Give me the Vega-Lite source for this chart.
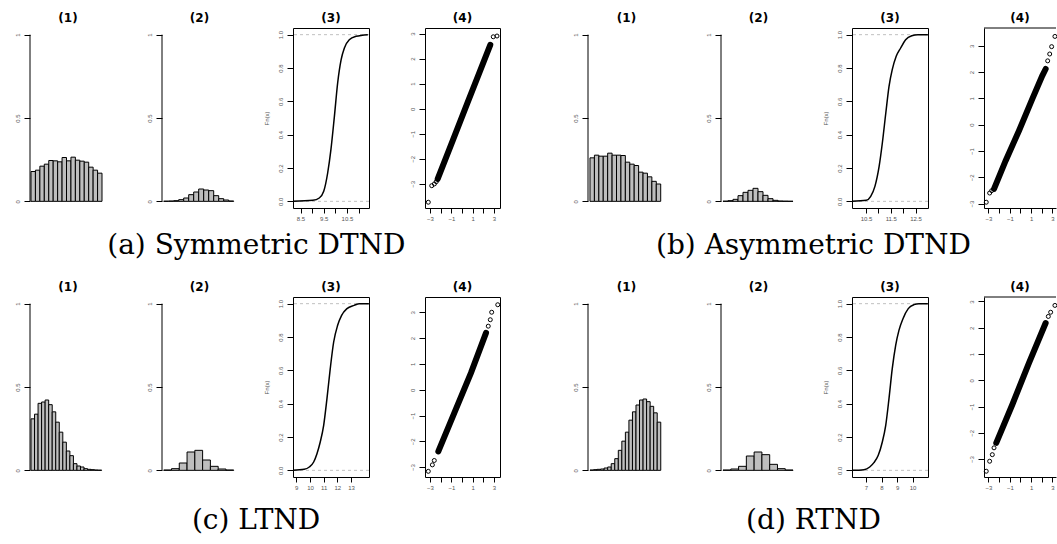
{
 "$schema": "https://vega.github.io/schema/vega-lite/v6.json",
 "background": "white",
 "autosize": {"type": "pad"},
 "padding": {"left": 13, "top": 11, "right": 0, "bottom": 0},
 "config": {
  "view": {"stroke": null},
  "axis": {"domain": false, "grid": false, "ticks": true, "tickColor": "#000", "tickWidth": 1, "tickSize": 5, "tickCount": 20, "labelFont": "Liberation Sans", "labelFontSize": 6, "labelColor": "#555", "titleFont": "Liberation Sans", "titleFontSize": 6, "titleFontWeight": "normal", "titleColor": "#555", "labelPadding": 2, "labelFlush": false, "labelBound": false, "labelOverlap": false},
  "axisX": {"labelAngle": 0, "labelAlign": "center", "labelBaseline": "top"},
  "axisY": {"labelAngle": -90, "labelAlign": "center", "labelBaseline": "bottom", "labelPadding": 4, "tickSize": 6, "titlePadding": 8},
  "title": {"font": "DejaVu Sans", "fontSize": 12, "fontWeight": "bold", "color": "#000", "offset": 3, "anchor": "middle", "baseline": "bottom"}
 },
 "datasets": {
  "h1": [
   {"g":"a","b0":0,"b1":1,"d":0.179},{"g":"a","b0":1,"b1":2,"d":0.187},{"g":"a","b0":2,"b1":3,"d":0.211},{"g":"a","b0":3,"b1":4,"d":0.223},{"g":"a","b0":4,"b1":5,"d":0.245},{"g":"a","b0":5,"b1":6,"d":0.243},{"g":"a","b0":6,"b1":7,"d":0.237},{"g":"a","b0":7,"b1":8,"d":0.263},{"g":"a","b0":8,"b1":9,"d":0.243},{"g":"a","b0":9,"b1":10,"d":0.265},{"g":"a","b0":10,"b1":11,"d":0.247},{"g":"a","b0":11,"b1":12,"d":0.241},{"g":"a","b0":12,"b1":13,"d":0.235},{"g":"a","b0":13,"b1":14,"d":0.205},{"g":"a","b0":14,"b1":15,"d":0.187},{"g":"a","b0":15,"b1":16,"d":0.169},
   {"g":"b","b0":0,"b1":1,"d":0.261},{"g":"b","b0":1,"b1":2,"d":0.277},{"g":"b","b0":2,"b1":3,"d":0.271},{"g":"b","b0":3,"b1":4,"d":0.271},{"g":"b","b0":4,"b1":5,"d":0.289},{"g":"b","b0":5,"b1":6,"d":0.277},{"g":"b","b0":6,"b1":7,"d":0.277},{"g":"b","b0":7,"b1":8,"d":0.275},{"g":"b","b0":8,"b1":9,"d":0.235},{"g":"b","b0":9,"b1":10,"d":0.223},{"g":"b","b0":10,"b1":11,"d":0.215},{"g":"b","b0":11,"b1":12,"d":0.175},{"g":"b","b0":12,"b1":13,"d":0.169},{"g":"b","b0":13,"b1":14,"d":0.147},{"g":"b","b0":14,"b1":15,"d":0.120},{"g":"b","b0":15,"b1":16,"d":0.104},
   {"g":"c","b0":0,"b1":1,"d":0.309},{"g":"c","b0":1,"b1":2,"d":0.337},{"g":"c","b0":2,"b1":3,"d":0.402},{"g":"c","b0":3,"b1":4,"d":0.410},{"g":"c","b0":4,"b1":5,"d":0.422},{"g":"c","b0":5,"b1":6,"d":0.394},{"g":"c","b0":6,"b1":7,"d":0.351},{"g":"c","b0":7,"b1":8,"d":0.289},{"g":"c","b0":8,"b1":9,"d":0.229},{"g":"c","b0":9,"b1":10,"d":0.169},{"g":"c","b0":10,"b1":11,"d":0.116},{"g":"c","b0":11,"b1":12,"d":0.088},{"g":"c","b0":12,"b1":13,"d":0.040},{"g":"c","b0":13,"b1":14,"d":0.026},{"g":"c","b0":14,"b1":15,"d":0.020},{"g":"c","b0":15,"b1":16,"d":0.010},{"g":"c","b0":16,"b1":17,"d":0.006},{"g":"c","b0":17,"b1":18,"d":0.004},{"g":"c","b0":18,"b1":19,"d":0.002},{"g":"c","b0":19,"b1":20,"d":0.001},
   {"g":"d","b0":0,"b1":1,"d":0.002},{"g":"d","b0":1,"b1":2,"d":0.004},{"g":"d","b0":2,"b1":3,"d":0.006},{"g":"d","b0":3,"b1":4,"d":0.008},{"g":"d","b0":4,"b1":5,"d":0.014},{"g":"d","b0":5,"b1":6,"d":0.020},{"g":"d","b0":6,"b1":7,"d":0.040},{"g":"d","b0":7,"b1":8,"d":0.070},{"g":"d","b0":8,"b1":9,"d":0.120},{"g":"d","b0":9,"b1":10,"d":0.175},{"g":"d","b0":10,"b1":11,"d":0.229},{"g":"d","b0":11,"b1":12,"d":0.301},{"g":"d","b0":12,"b1":13,"d":0.351},{"g":"d","b0":13,"b1":14,"d":0.392},{"g":"d","b0":14,"b1":15,"d":0.422},{"g":"d","b0":15,"b1":16,"d":0.428},{"g":"d","b0":16,"b1":17,"d":0.412},{"g":"d","b0":17,"b1":18,"d":0.384},{"g":"d","b0":18,"b1":19,"d":0.345},{"g":"d","b0":19,"b1":20,"d":0.289}
  ],
  "h2": [
   {"g":"a","b0":0,"b1":1,"d":0.001},{"g":"a","b0":1,"b1":2,"d":0.002},{"g":"a","b0":2,"b1":3,"d":0.004},{"g":"a","b0":3,"b1":4,"d":0.010},{"g":"a","b0":4,"b1":5,"d":0.020},{"g":"a","b0":5,"b1":6,"d":0.040},{"g":"a","b0":6,"b1":7,"d":0.056},{"g":"a","b0":7,"b1":8,"d":0.074},{"g":"a","b0":8,"b1":9,"d":0.068},{"g":"a","b0":9,"b1":10,"d":0.064},{"g":"a","b0":10,"b1":11,"d":0.034},{"g":"a","b0":11,"b1":12,"d":0.016},{"g":"a","b0":12,"b1":13,"d":0.008},{"g":"a","b0":13,"b1":14,"d":0.002},
   {"g":"b","b0":0,"b1":1,"d":0.001},{"g":"b","b0":1,"b1":2,"d":0.004},{"g":"b","b0":2,"b1":3,"d":0.012},{"g":"b","b0":3,"b1":4,"d":0.034},{"g":"b","b0":4,"b1":5,"d":0.054},{"g":"b","b0":5,"b1":6,"d":0.066},{"g":"b","b0":6,"b1":7,"d":0.078},{"g":"b","b0":7,"b1":8,"d":0.058},{"g":"b","b0":8,"b1":9,"d":0.036},{"g":"b","b0":9,"b1":10,"d":0.016},{"g":"b","b0":10,"b1":11,"d":0.006},{"g":"b","b0":11,"b1":12,"d":0.002},{"g":"b","b0":12,"b1":13,"d":0.001},{"g":"b","b0":13,"b1":14,"d":0.0005},
   {"g":"c","b0":0,"b1":1,"d":0.002},{"g":"c","b0":1,"b1":2,"d":0.010},{"g":"c","b0":2,"b1":3,"d":0.044},{"g":"c","b0":3,"b1":4,"d":0.110},{"g":"c","b0":4,"b1":5,"d":0.120},{"g":"c","b0":5,"b1":6,"d":0.062},{"g":"c","b0":6,"b1":7,"d":0.024},{"g":"c","b0":7,"b1":8,"d":0.008},{"g":"c","b0":8,"b1":9,"d":0.002},
   {"g":"d","b0":0,"b1":1,"d":0.002},{"g":"d","b0":1,"b1":2,"d":0.008},{"g":"d","b0":2,"b1":3,"d":0.024},{"g":"d","b0":3,"b1":4,"d":0.086},{"g":"d","b0":4,"b1":5,"d":0.110},{"g":"d","b0":5,"b1":6,"d":0.094},{"g":"d","b0":6,"b1":7,"d":0.036},{"g":"d","b0":7,"b1":8,"d":0.010},{"g":"d","b0":8,"b1":9,"d":0.002}
  ],
  "ecdf": [
   {"g":"a","x":8.19,"F":0},{"g":"a","x":9.03,"F":0.006},{"g":"a","x":9.31,"F":0.02},{"g":"a","x":9.50,"F":0.06},{"g":"a","x":9.67,"F":0.17},{"g":"a","x":9.81,"F":0.31},{"g":"a","x":9.96,"F":0.51},{"g":"a","x":10.10,"F":0.71},{"g":"a","x":10.25,"F":0.85},{"g":"a","x":10.39,"F":0.92},{"g":"a","x":10.60,"F":0.97},{"g":"a","x":10.89,"F":0.99},{"g":"a","x":11.40,"F":1},
   {"g":"b","x":9.94,"F":0},{"g":"b","x":10.51,"F":0.006},{"g":"b","x":10.69,"F":0.03},{"g":"b","x":10.86,"F":0.09},{"g":"b","x":11.03,"F":0.21},{"g":"b","x":11.16,"F":0.35},{"g":"b","x":11.30,"F":0.53},{"g":"b","x":11.43,"F":0.69},{"g":"b","x":11.56,"F":0.79},{"g":"b","x":11.72,"F":0.87},{"g":"b","x":11.90,"F":0.92},{"g":"b","x":12.10,"F":0.97},{"g":"b","x":12.35,"F":0.994},{"g":"b","x":12.60,"F":1},{"g":"b","x":13.0,"F":1},
   {"g":"c","x":8.77,"F":0},{"g":"c","x":9.58,"F":0.006},{"g":"c","x":9.95,"F":0.02},{"g":"c","x":10.27,"F":0.05},{"g":"c","x":10.51,"F":0.10},{"g":"c","x":10.75,"F":0.17},{"g":"c","x":11.0,"F":0.27},{"g":"c","x":11.24,"F":0.43},{"g":"c","x":11.48,"F":0.61},{"g":"c","x":11.73,"F":0.77},{"g":"c","x":12.02,"F":0.87},{"g":"c","x":12.31,"F":0.93},{"g":"c","x":12.70,"F":0.97},{"g":"c","x":13.23,"F":0.99},{"g":"c","x":13.60,"F":1},{"g":"c","x":14.30,"F":1},
   {"g":"d","x":6.11,"F":0},{"g":"d","x":6.87,"F":0.004},{"g":"d","x":7.24,"F":0.02},{"g":"d","x":7.51,"F":0.046},{"g":"d","x":7.79,"F":0.09},{"g":"d","x":8.05,"F":0.17},{"g":"d","x":8.27,"F":0.27},{"g":"d","x":8.48,"F":0.43},{"g":"d","x":8.69,"F":0.61},{"g":"d","x":8.91,"F":0.75},{"g":"d","x":9.12,"F":0.84},{"g":"d","x":9.38,"F":0.91},{"g":"d","x":9.72,"F":0.97},{"g":"d","x":10.09,"F":0.994},{"g":"d","x":10.41,"F":1},{"g":"d","x":10.98,"F":1}
  ],
  "qqb": [
   {"g":"a","tx":-2.28,"sy":-2.80},{"g":"a","tx":-0.9,"sy":-1.30},{"g":"a","tx":0.5,"sy":0.22},{"g":"a","tx":1.6,"sy":1.41},{"g":"a","tx":2.65,"sy":2.55},
   {"g":"b","tx":-2.48,"sy":-2.44},{"g":"b","tx":-1.39,"sy":-1.37},{"g":"b","tx":-0.14,"sy":-0.23},{"g":"b","tx":1.11,"sy":0.98},{"g":"b","tx":2.04,"sy":1.86},{"g":"b","tx":2.36,"sy":2.12},
   {"g":"c","tx":-2.22,"sy":-2.39},{"g":"c","tx":-0.72,"sy":-0.90},{"g":"c","tx":0.84,"sy":0.65},{"g":"c","tx":2.25,"sy":2.20},
   {"g":"d","tx":-2.27,"sy":-2.38},{"g":"d","tx":-0.77,"sy":-0.93},{"g":"d","tx":0.80,"sy":0.66},{"g":"d","tx":2.36,"sy":2.18}
  ],
  "qqp": [
   {"g":"a","tx":-3.16,"sy":-3.73},{"g":"a","tx":-2.84,"sy":-3.07},{"g":"a","tx":-2.59,"sy":-3.0},{"g":"a","tx":-2.41,"sy":-2.91},{"g":"a","tx":2.93,"sy":2.87},{"g":"a","tx":3.28,"sy":2.90},
   {"g":"b","tx":-3.21,"sy":-2.95},{"g":"b","tx":-2.89,"sy":-2.60},{"g":"b","tx":-2.70,"sy":-2.51},{"g":"b","tx":2.55,"sy":2.43},{"g":"b","tx":2.74,"sy":2.69},{"g":"b","tx":2.92,"sy":2.97},{"g":"b","tx":3.23,"sy":3.36},
   {"g":"c","tx":-3.16,"sy":-3.16},{"g":"c","tx":-2.78,"sy":-2.91},{"g":"c","tx":-2.60,"sy":-2.74},{"g":"c","tx":2.46,"sy":2.46},{"g":"c","tx":2.65,"sy":2.71},{"g":"c","tx":2.78,"sy":3.0},{"g":"c","tx":3.35,"sy":3.29},
   {"g":"d","tx":-3.21,"sy":-3.46},{"g":"d","tx":-2.89,"sy":-3.08},{"g":"d","tx":-2.64,"sy":-2.83},{"g":"d","tx":-2.48,"sy":-2.57},{"g":"d","tx":2.61,"sy":2.43},{"g":"d","tx":2.83,"sy":2.59},{"g":"d","tx":3.23,"sy":2.85}
  ]
 },
 "spacing": 20,
 "vconcat": [
  {"spacing": 68, "hconcat": [
   {"bounds": "flush", "spacing": 56,
    "title": {"text": "(a) Symmetric DTND", "orient": "bottom", "anchor": "middle", "font": "DejaVu Serif", "fontSize": 28, "fontWeight": "normal", "baseline": "top", "offset": 10, "dx": -2},
    "hconcat": [
     {"width": 76, "height": 180, "title": "(1)", "layer": [
      {"data": {"name": "h1"}, "transform": [{"filter": "datum.g == 'a'"}], "mark": {"type": "bar", "fill": "#bebebe", "stroke": "#000", "strokeWidth": 1},
       "encoding": {"x": {"field": "b0", "type": "quantitative", "scale": {"domain": [-0.225, 16.9], "nice": false, "zero": false}, "axis": null}, "x2": {"field": "b1"},
        "y": {"field": "d", "type": "quantitative", "scale": {"domain": [-0.04, 1.04], "nice": false, "zero": false}, "axis": {"values": [0, 0.5, 1], "tickCount": 20, "format": "~g", "title": null}}, "y2": {"datum": 0}}},
      {"data": {"values": [{}]}, "mark": {"type": "rule", "stroke": "#000", "strokeWidth": 1},
       "encoding": {"x": {"datum": -0.225, "axis": null}, "y": {"datum": 0}, "y2": {"datum": 1}}}
     ]},
     {"width": 75, "height": 180, "title": "(2)", "layer": [
      {"data": {"name": "h2"}, "transform": [{"filter": "datum.g == 'a'"}], "mark": {"type": "bar", "fill": "#bebebe", "stroke": "#000", "strokeWidth": 1},
       "encoding": {"x": {"field": "b0", "type": "quantitative", "scale": {"domain": [-0.34, 14.66], "nice": false, "zero": false}, "axis": null}, "x2": {"field": "b1"},
        "y": {"field": "d", "type": "quantitative", "scale": {"domain": [-0.04, 1.04], "nice": false, "zero": false}, "axis": {"values": [0, 0.5, 1], "tickCount": 20, "format": "~g", "title": null}}, "y2": {"datum": 0}}},
      {"data": {"values": [{}]}, "mark": {"type": "rule", "stroke": "#000", "strokeWidth": 1},
       "encoding": {"x": {"datum": -0.34, "axis": null}, "y": {"datum": 0}, "y2": {"datum": 1}}}
     ]},
     {"width": 76, "height": 180, "title": "(3)", "view": {"stroke": "#000", "strokeWidth": 1}, "layer": [
      {"data": {"values": [{"F": 0}, {"F": 1}]}, "mark": {"type": "rule", "stroke": "#b0b0b0", "strokeDash": [3, 3], "strokeWidth": 0.8},
       "encoding": {"y": {"field": "F", "type": "quantitative"}}},
      {"data": {"name": "ecdf"}, "transform": [{"filter": "datum.g == 'a'"}], "mark": {"type": "line", "stroke": "#000", "strokeWidth": 1.5, "interpolate": "monotone"},
       "encoding": {"x": {"field": "x", "type": "quantitative", "scale": {"domain": [8.177, 11.45], "nice": false, "zero": false}, "axis": {"values": [8.5, 9, 9.5, 10, 10.5, 11], "tickCount": 20, "format": ".1f", "labelExpr": "datum.value % 1 == 0.5 ? datum.label : ''", "title": null}},
        "y": {"field": "F", "type": "quantitative", "scale": {"domain": [-0.04, 1.04], "nice": false, "zero": false}, "axis": {"values": [0, 0.2, 0.4, 0.6, 0.8, 1], "tickCount": 20, "format": ".1f", "title": "Fn(x)"}}}}
     ]},
     {"width": 75, "height": 180, "title": "(4)", "view": {"stroke": "#000", "strokeWidth": 1}, "layer": [
      {"data": {"name": "qqb"}, "transform": [{"filter": "datum.g == 'a'"}], "mark": {"type": "line", "stroke": "#000", "strokeWidth": 6, "strokeCap": "round"},
       "encoding": {"x": {"field": "tx", "type": "quantitative", "scale": {"domain": [-3.47, 3.56], "nice": false, "zero": false}, "axis": {"values": [-3, -2, -1, 0, 1, 2, 3], "tickCount": 20, "format": "d", "labelExpr": "datum.value % 2 != 0 ? datum.label : ''", "title": null}},
        "y": {"field": "sy", "type": "quantitative", "scale": {"domain": [-3.96, 3.22], "nice": false, "zero": false}, "axis": {"values": [-3, -2, -1, 0, 1, 2, 3], "tickCount": 20, "format": "d", "title": null}}}},
      {"data": {"name": "qqp"}, "transform": [{"filter": "datum.g == 'a'"}], "mark": {"type": "point", "shape": "circle", "filled": false, "stroke": "#000", "strokeWidth": 1, "size": 16, "opacity": 1},
       "encoding": {"x": {"field": "tx", "type": "quantitative"}, "y": {"field": "sy", "type": "quantitative"}}}
     ]}
    ]},
   {"bounds": "flush", "spacing": 56,
    "title": {"text": "(b) Asymmetric DTND", "orient": "bottom", "anchor": "middle", "font": "DejaVu Serif", "fontSize": 28, "fontWeight": "normal", "baseline": "top", "offset": 10, "dx": -2},
    "hconcat": [
     {"width": 77, "height": 180, "title": "(1)", "layer": [
      {"data": {"name": "h1"}, "transform": [{"filter": "datum.g == 'b'"}], "mark": {"type": "bar", "fill": "#bebebe", "stroke": "#000", "strokeWidth": 1},
       "encoding": {"x": {"field": "b0", "type": "quantitative", "scale": {"domain": [-0.45, 16.97], "nice": false, "zero": false}, "axis": null}, "x2": {"field": "b1"},
        "y": {"field": "d", "type": "quantitative", "scale": {"domain": [-0.04, 1.04], "nice": false, "zero": false}, "axis": {"values": [0, 0.5, 1], "tickCount": 20, "format": "~g", "title": null}}, "y2": {"datum": 0}}},
      {"data": {"values": [{}]}, "mark": {"type": "rule", "stroke": "#000", "strokeWidth": 1},
       "encoding": {"x": {"datum": -0.45, "axis": null}, "y": {"datum": 0}, "y2": {"datum": 1}}}
     ]},
     {"width": 75, "height": 180, "title": "(2)", "layer": [
      {"data": {"name": "h2"}, "transform": [{"filter": "datum.g == 'b'"}], "mark": {"type": "bar", "fill": "#bebebe", "stroke": "#000", "strokeWidth": 1},
       "encoding": {"x": {"field": "b0", "type": "quantitative", "scale": {"domain": [-0.4, 14.6], "nice": false, "zero": false}, "axis": null}, "x2": {"field": "b1"},
        "y": {"field": "d", "type": "quantitative", "scale": {"domain": [-0.04, 1.04], "nice": false, "zero": false}, "axis": {"values": [0, 0.5, 1], "tickCount": 20, "format": "~g", "title": null}}, "y2": {"datum": 0}}},
      {"data": {"values": [{}]}, "mark": {"type": "rule", "stroke": "#000", "strokeWidth": 1},
       "encoding": {"x": {"datum": -0.4, "axis": null}, "y": {"datum": 0}, "y2": {"datum": 1}}}
     ]},
     {"width": 76, "height": 180, "title": "(3)", "view": {"stroke": "#000", "strokeWidth": 1}, "layer": [
      {"data": {"values": [{"F": 0}, {"F": 1}]}, "mark": {"type": "rule", "stroke": "#b0b0b0", "strokeDash": [3, 3], "strokeWidth": 0.8},
       "encoding": {"y": {"field": "F", "type": "quantitative"}}},
      {"data": {"name": "ecdf"}, "transform": [{"filter": "datum.g == 'b'"}], "mark": {"type": "line", "stroke": "#000", "strokeWidth": 1.5, "interpolate": "monotone"},
       "encoding": {"x": {"field": "x", "type": "quantitative", "scale": {"domain": [9.934, 13.005], "nice": false, "zero": false}, "axis": {"values": [10.5, 11, 11.5, 12, 12.5], "tickCount": 20, "format": ".1f", "labelExpr": "datum.value % 1 == 0.5 ? datum.label : ''", "title": null}},
        "y": {"field": "F", "type": "quantitative", "scale": {"domain": [-0.04, 1.04], "nice": false, "zero": false}, "axis": {"values": [0, 0.2, 0.4, 0.6, 0.8, 1], "tickCount": 20, "format": ".1f", "title": "Fn(x)"}}}}
     ]},
     {"width": 72, "height": 180, "title": "(4)", "layer": [
      {"data": {"values": [{}]}, "mark": {"type": "rule", "stroke": "#000", "strokeWidth": 1},
       "encoding": {"y": {"datum": 3.68}}},
      {"data": {"name": "qqb"}, "transform": [{"filter": "datum.g == 'b'"}], "mark": {"type": "line", "stroke": "#000", "strokeWidth": 6, "strokeCap": "round"},
       "encoding": {"x": {"field": "tx", "type": "quantitative", "scale": {"domain": [-3.42, 3.33], "nice": false, "zero": false}, "axis": {"values": [-3, -2, -1, 0, 1, 2, 3], "tickCount": 20, "format": "d", "labelExpr": "datum.value % 2 != 0 ? datum.label : ''", "title": null, "domain": true, "domainColor": "#000", "domainWidth": 1}},
        "y": {"field": "sy", "type": "quantitative", "scale": {"domain": [-3.17, 3.68], "nice": false, "zero": false}, "axis": {"values": [-3, -2, -1, 0, 1, 2, 3], "tickCount": 20, "format": "d", "title": null, "domain": true, "domainColor": "#000", "domainWidth": 1}}}},
      {"data": {"name": "qqp"}, "transform": [{"filter": "datum.g == 'b'"}], "mark": {"type": "point", "shape": "circle", "filled": false, "stroke": "#000", "strokeWidth": 1, "size": 16, "opacity": 1},
       "encoding": {"x": {"field": "tx", "type": "quantitative"}, "y": {"field": "sy", "type": "quantitative"}}}
     ]}
    ]}
  ]},
  {"spacing": 68, "hconcat": [
   {"bounds": "flush", "spacing": 56,
    "title": {"text": "(c) LTND", "orient": "bottom", "anchor": "middle", "font": "DejaVu Serif", "fontSize": 28, "fontWeight": "normal", "baseline": "top", "offset": 16, "dx": -2},
    "hconcat": [
     {"width": 76, "height": 180, "title": "(1)", "layer": [
      {"data": {"name": "h1"}, "transform": [{"filter": "datum.g == 'c'"}], "mark": {"type": "bar", "fill": "#bebebe", "stroke": "#000", "strokeWidth": 1},
       "encoding": {"x": {"field": "b0", "type": "quantitative", "scale": {"domain": [-0.283, 21.22], "nice": false, "zero": false}, "axis": null}, "x2": {"field": "b1"},
        "y": {"field": "d", "type": "quantitative", "scale": {"domain": [-0.04, 1.04], "nice": false, "zero": false}, "axis": {"values": [0, 0.5, 1], "tickCount": 20, "format": "~g", "title": null}}, "y2": {"datum": 0}}},
      {"data": {"values": [{}]}, "mark": {"type": "rule", "stroke": "#000", "strokeWidth": 1},
       "encoding": {"x": {"datum": -0.283, "axis": null}, "y": {"datum": 0}, "y2": {"datum": 1}}}
     ]},
     {"width": 75, "height": 180, "title": "(2)", "layer": [
      {"data": {"name": "h2"}, "transform": [{"filter": "datum.g == 'c'"}], "mark": {"type": "bar", "fill": "#bebebe", "stroke": "#000", "strokeWidth": 1},
       "encoding": {"x": {"field": "b0", "type": "quantitative", "scale": {"domain": [-0.22, 9.42], "nice": false, "zero": false}, "axis": null}, "x2": {"field": "b1"},
        "y": {"field": "d", "type": "quantitative", "scale": {"domain": [-0.04, 1.04], "nice": false, "zero": false}, "axis": {"values": [0, 0.5, 1], "tickCount": 20, "format": "~g", "title": null}}, "y2": {"datum": 0}}},
      {"data": {"values": [{}]}, "mark": {"type": "rule", "stroke": "#000", "strokeWidth": 1},
       "encoding": {"x": {"datum": -0.22, "axis": null}, "y": {"datum": 0}, "y2": {"datum": 1}}}
     ]},
     {"width": 76, "height": 180, "title": "(3)", "view": {"stroke": "#000", "strokeWidth": 1}, "layer": [
      {"data": {"values": [{"F": 0}, {"F": 1}]}, "mark": {"type": "rule", "stroke": "#b0b0b0", "strokeDash": [3, 3], "strokeWidth": 0.8},
       "encoding": {"y": {"field": "F", "type": "quantitative"}}},
      {"data": {"name": "ecdf"}, "transform": [{"filter": "datum.g == 'c'"}], "mark": {"type": "line", "stroke": "#000", "strokeWidth": 1.5, "interpolate": "monotone"},
       "encoding": {"x": {"field": "x", "type": "quantitative", "scale": {"domain": [8.76, 14.31], "nice": false, "zero": false}, "axis": {"values": [9, 10, 11, 12, 13], "tickCount": 20, "format": "d", "title": null}},
        "y": {"field": "F", "type": "quantitative", "scale": {"domain": [-0.04, 1.04], "nice": false, "zero": false}, "axis": {"values": [0, 0.2, 0.4, 0.6, 0.8, 1], "tickCount": 20, "format": ".1f", "title": "Fn(x)"}}}}
     ]},
     {"width": 75, "height": 180, "title": "(4)", "view": {"stroke": "#000", "strokeWidth": 1}, "layer": [
      {"data": {"name": "qqb"}, "transform": [{"filter": "datum.g == 'c'"}], "mark": {"type": "line", "stroke": "#000", "strokeWidth": 6, "strokeCap": "round"},
       "encoding": {"x": {"field": "tx", "type": "quantitative", "scale": {"domain": [-3.47, 3.56], "nice": false, "zero": false}, "axis": {"values": [-3, -2, -1, 0, 1, 2, 3], "tickCount": 20, "format": "d", "labelExpr": "datum.value % 2 != 0 ? datum.label : ''", "title": null}},
        "y": {"field": "sy", "type": "quantitative", "scale": {"domain": [-3.38, 3.59], "nice": false, "zero": false}, "axis": {"values": [-3, -2, -1, 0, 1, 2, 3], "tickCount": 20, "format": "d", "title": null}}}},
      {"data": {"name": "qqp"}, "transform": [{"filter": "datum.g == 'c'"}], "mark": {"type": "point", "shape": "circle", "filled": false, "stroke": "#000", "strokeWidth": 1, "size": 16, "opacity": 1},
       "encoding": {"x": {"field": "tx", "type": "quantitative"}, "y": {"field": "sy", "type": "quantitative"}}}
     ]}
    ]},
   {"bounds": "flush", "spacing": 56,
    "title": {"text": "(d) RTND", "orient": "bottom", "anchor": "middle", "font": "DejaVu Serif", "fontSize": 28, "fontWeight": "normal", "baseline": "top", "offset": 16, "dx": -2},
    "hconcat": [
     {"width": 77, "height": 180, "title": "(1)", "layer": [
      {"data": {"name": "h1"}, "transform": [{"filter": "datum.g == 'd'"}], "mark": {"type": "bar", "fill": "#bebebe", "stroke": "#000", "strokeWidth": 1},
       "encoding": {"x": {"field": "b0", "type": "quantitative", "scale": {"domain": [-0.566, 21.2], "nice": false, "zero": false}, "axis": null}, "x2": {"field": "b1"},
        "y": {"field": "d", "type": "quantitative", "scale": {"domain": [-0.04, 1.04], "nice": false, "zero": false}, "axis": {"values": [0, 0.5, 1], "tickCount": 20, "format": "~g", "title": null}}, "y2": {"datum": 0}}},
      {"data": {"values": [{}]}, "mark": {"type": "rule", "stroke": "#000", "strokeWidth": 1},
       "encoding": {"x": {"datum": -0.566, "axis": null}, "y": {"datum": 0}, "y2": {"datum": 1}}}
     ]},
     {"width": 75, "height": 180, "title": "(2)", "layer": [
      {"data": {"name": "h2"}, "transform": [{"filter": "datum.g == 'd'"}], "mark": {"type": "bar", "fill": "#bebebe", "stroke": "#000", "strokeWidth": 1},
       "encoding": {"x": {"field": "b0", "type": "quantitative", "scale": {"domain": [-0.257, 9.38], "nice": false, "zero": false}, "axis": null}, "x2": {"field": "b1"},
        "y": {"field": "d", "type": "quantitative", "scale": {"domain": [-0.04, 1.04], "nice": false, "zero": false}, "axis": {"values": [0, 0.5, 1], "tickCount": 20, "format": "~g", "title": null}}, "y2": {"datum": 0}}},
      {"data": {"values": [{}]}, "mark": {"type": "rule", "stroke": "#000", "strokeWidth": 1},
       "encoding": {"x": {"datum": -0.257, "axis": null}, "y": {"datum": 0}, "y2": {"datum": 1}}}
     ]},
     {"width": 76, "height": 180, "title": "(3)", "view": {"stroke": "#000", "strokeWidth": 1}, "layer": [
      {"data": {"values": [{"F": 0}, {"F": 1}]}, "mark": {"type": "rule", "stroke": "#b0b0b0", "strokeDash": [3, 3], "strokeWidth": 0.8},
       "encoding": {"y": {"field": "F", "type": "quantitative"}}},
      {"data": {"name": "ecdf"}, "transform": [{"filter": "datum.g == 'd'"}], "mark": {"type": "line", "stroke": "#000", "strokeWidth": 1.5, "interpolate": "monotone"},
       "encoding": {"x": {"field": "x", "type": "quantitative", "scale": {"domain": [6.1, 10.99], "nice": false, "zero": false}, "axis": {"values": [7, 8, 9, 10], "tickCount": 20, "format": "d", "title": null}},
        "y": {"field": "F", "type": "quantitative", "scale": {"domain": [-0.04, 1.04], "nice": false, "zero": false}, "axis": {"values": [0, 0.2, 0.4, 0.6, 0.8, 1], "tickCount": 20, "format": ".1f", "title": "Fn(x)"}}}}
     ]},
     {"width": 72, "height": 180, "title": "(4)", "layer": [
      {"data": {"values": [{}]}, "mark": {"type": "rule", "stroke": "#000", "strokeWidth": 1},
       "encoding": {"y": {"datum": 3.17}}},
      {"data": {"name": "qqb"}, "transform": [{"filter": "datum.g == 'd'"}], "mark": {"type": "line", "stroke": "#000", "strokeWidth": 6, "strokeCap": "round"},
       "encoding": {"x": {"field": "tx", "type": "quantitative", "scale": {"domain": [-3.42, 3.33], "nice": false, "zero": false}, "axis": {"values": [-3, -2, -1, 0, 1, 2, 3], "tickCount": 20, "format": "d", "labelExpr": "datum.value % 2 != 0 ? datum.label : ''", "title": null, "domain": true, "domainColor": "#000", "domainWidth": 1}},
        "y": {"field": "sy", "type": "quantitative", "scale": {"domain": [-3.68, 3.17], "nice": false, "zero": false}, "axis": {"values": [-3, -2, -1, 0, 1, 2, 3], "tickCount": 20, "format": "d", "title": null, "domain": true, "domainColor": "#000", "domainWidth": 1}}}},
      {"data": {"name": "qqp"}, "transform": [{"filter": "datum.g == 'd'"}], "mark": {"type": "point", "shape": "circle", "filled": false, "stroke": "#000", "strokeWidth": 1, "size": 16, "opacity": 1},
       "encoding": {"x": {"field": "tx", "type": "quantitative"}, "y": {"field": "sy", "type": "quantitative"}}}
     ]}
    ]}
  ]}
 ]
}
